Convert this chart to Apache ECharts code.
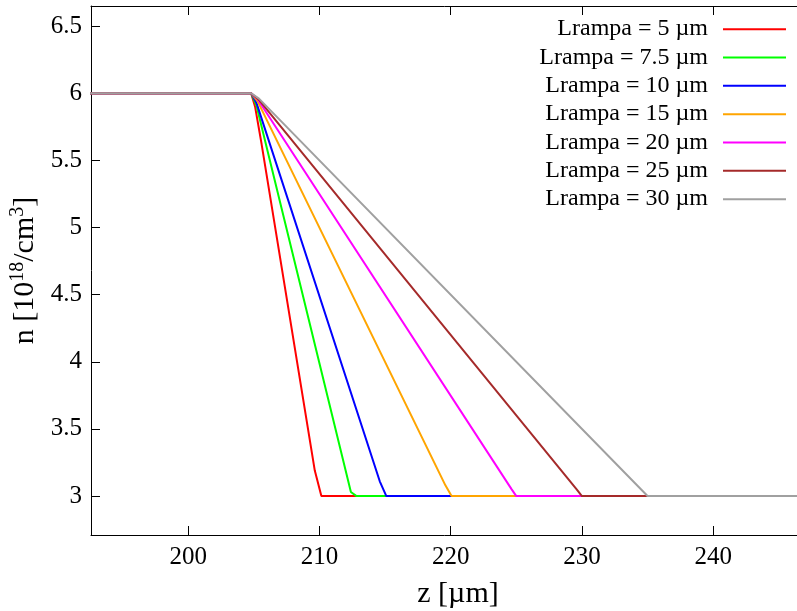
<!DOCTYPE html>
<html>
<head>
<meta charset="utf-8">
<script src="https://cdn.jsdelivr.net/npm/echarts@6/dist/echarts.min.js"></script>
<style>
html,body{margin:0;padding:0;background:#fff;}
#c{width:797px;height:611px;}
</style>
</head>
<body>
<div id="c"></div>
<script>
// Series names
const seriesNames = ['Lrampa = 5 µm','Lrampa = 7.5 µm','Lrampa = 10 µm','Lrampa = 15 µm','Lrampa = 20 µm','Lrampa = 25 µm','Lrampa = 30 µm'];
// Data [z (µm), n (1e18/cm^3)]
const L5   = [[190,6],[204.8,6],[205.1,5.9],[205.6,5.62],[209.65,3.19],[210.15,3],[250,3]];
const L7_5 = [[190,6],[204.8,6],[205.2,5.91],[212.4,3.03],[212.83,3],[250,3]];
const L10  = [[190,6],[204.8,6],[205.2,5.93],[214.6,3.11],[215.1,3],[250,3]];
const L15  = [[190,6],[204.8,6],[205.3,5.94],[219.6,3.08],[220.07,3],[250,3]];
const L20  = [[190,6],[204.8,6],[205.3,5.955],[224.65,3.05],[225.0,3],[250,3]];
const L25  = [[190,6],[204.8,6],[205.4,5.95],[229.6,3.05],[230.0,3],[250,3]];
const L30  = [[190,6],[204.8,6],[205.4,5.96],[235.0,3],[250,3]];
const seriesData = [L5, L7_5, L10, L15, L20, L25, L30];
const colors = ['#ff0000','#00ff00','#0000ff','#ffa500','#ff00ff','#a52a2a','#a0a0a0'];
// Ticks
const xTicks = [200,210,220,230,240];
const yTicks = [3,3.5,4,4.5,5,5.5,6,6.5];

const FONT = '"Liberation Serif","Times New Roman",serif';
const axisColor = '#000';

const chart = echarts.init(document.getElementById('c'), null, {renderer:'canvas'});
const option = {
  animation:false,
  backgroundColor:'#fff',
  grid:{left:91, top:6, width:734, height:529, containLabel:false, outerBoundsMode:'none'},
  legend:{
    data:seriesNames,
    orient:'vertical',
    right:6, top:10,
    align:'right',
    icon:'rect',
    itemWidth:63, itemHeight:2,
    itemGap:0,
    textStyle:{fontFamily:FONT, fontSize:24, color:'#000', width:180, align:'right', lineHeight:28.33, padding:[0,10,0,0]}
  },
  xAxis:[{
    type:'value', min:192.6, max:248.52, position:'bottom',
    name:'z [µm]', nameLocation:'middle', nameGap:44,
    nameTextStyle:{fontFamily:FONT, fontSize:30, color:'#000'},
    axisLine:{show:true, lineStyle:{color:axisColor, width:1}},
    axisTick:{show:true, inside:true, length:9, customValues:xTicks, lineStyle:{color:axisColor}},
    axisLabel:{show:true, customValues:xTicks, margin:10, fontFamily:FONT, fontSize:25, color:'#000'},
    splitLine:{show:false}
  },{
    type:'value', min:192.6, max:248.52, position:'top',
    axisLine:{show:true, lineStyle:{color:axisColor, width:1}},
    axisTick:{show:true, inside:true, length:9, customValues:xTicks, lineStyle:{color:axisColor}},
    axisLabel:{show:false},
    splitLine:{show:false}
  }],
  yAxis:[{
    type:'value', min:2.71, max:6.65, position:'left',
    name:'n [10{sup|18}/cm{sup|3}]', nameLocation:'middle', nameGap:38, nameRotate:90,
    nameTextStyle:{fontFamily:FONT, fontSize:30, color:'#000',
      rich:{sup:{fontFamily:FONT, fontSize:20, color:'#000', verticalAlign:'top', padding:[0,0,14,0]}}},
    axisLine:{show:true, lineStyle:{color:axisColor, width:1}},
    axisTick:{show:true, inside:true, length:9, customValues:yTicks, lineStyle:{color:axisColor}},
    axisLabel:{show:true, customValues:yTicks, margin:9, fontFamily:FONT, fontSize:25, color:'#000'},
    splitLine:{show:false}
  }],
  series: seriesNames.map((name,i)=>({
    name:name, type:'line', data:seriesData[i], showSymbol:false, symbol:'none',
    color:colors[i], lineStyle:{color:colors[i], width:2}, clip:true
  }))
};
chart.setOption(option);
</script>
</body>
</html>
